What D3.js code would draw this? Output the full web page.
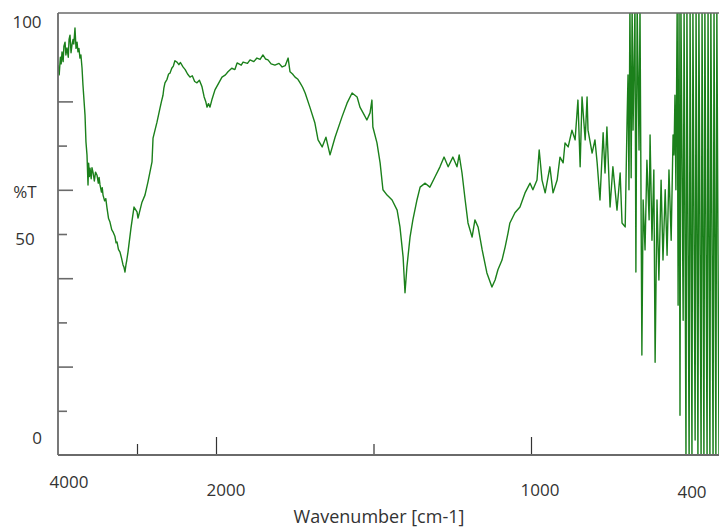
<!DOCTYPE html>
<html><head><meta charset="utf-8">
<script src="https://cdn.jsdelivr.net/npm/d3@7"></script>
<style>body{margin:0;background:#fff}svg{display:block}</style>
</head><body>
<script>
// ---- data ----
const wavenumbers = [4000,3985,3970,3960,3949,3935,3925,3911,3900,3886,3870,3860,3848,3835,3823,3810,3800,3785,3772,3759,3747,3735,3722,3710,3696,3684,3658,3646,3633,3620,3612,3603,3595,3580,3570,3557,3540,3525,3506,3490,3480,3468,3450,3440,3430,3410,3395,3380,3360,3342,3320,3304,3280,3265,3253,3235,3215,3195,3177,3165,3152,3140,3130,3114,3076,3038,3000,2987,2937,2899,2861,2810,2797,2747,2709,2690,2671,2660,2646,2620,2600,2582,2560,2540,2520,2494,2470,2450,2418,2390,2360,2329,2300,2270,2241,2210,2177,2150,2130,2114,2095,2076,2050,2013,
1981,1970,1962,1950,1940,1933,1920,1914,1900,1892,1880,1870,1860,1851,1843,1835,1825,1813,1800,1790,1780,1771,1765,1757,1749,1740,1733,1725,1717,1702,1686,1676,1663,1651,1638,1622,1600,1584,1568,1552,1543,1533,1521,1511,1505,1502,1489,1479,1470,1457,1441,1425,1416,1406,1400,1394,1384,1375,1362,1352,1336,1321,1305,1289,1276,1263,1248,1235,1228,1219,1209,1200,1187,1178,1168,1155,1140,1124,1114,1105,1092,1082,1073,1067,1051,1035,1019,1003,994,981,974,965,955,940,930,917,908,898,892,882,870,860,851,844,838,828,822,819,806,797,790,781,771,765,759,749,740,727,717,711,701,695,692,689,686,682,679,676,670,667,663,657,654,648,644,638,632,625,622,616,610,606,600,594,587,581,574,568,562,555,549,546,543,540,536,533,530,527,524,517,514,508,505,498,495,489,486,479,476,470,467,460,457,451,448,441,438,432,429,422,419,413,410,403];
const transmittance = [88.2,86.0,90.0,88.5,91.2,89.0,92.5,93.4,90.5,92.1,90.0,94.0,95.0,91.0,92.8,94.0,93.0,96.6,92.0,93.4,91.2,92.0,89.8,90.5,87.6,83.7,76.9,70.8,67.9,61.1,66.0,63.0,64.9,62.5,65.0,64.0,62.0,64.0,63.3,61.5,62.8,61.1,59.5,60.5,58.8,57.5,58.0,55.9,53.5,52.7,51.0,50.5,49.5,48.0,48.2,46.5,45.9,44.5,43.0,42.5,41.4,43.0,44.0,45.9,51.4,56.1,55.0,53.6,57.2,58.8,61.8,66.3,71.7,75.3,78.5,80.0,81.4,83.0,84.2,85.0,86.2,86.4,87.5,88.0,89.2,88.9,88.3,88.8,87.8,87.2,86.2,85.5,85.8,84.5,84.2,84.8,83.3,81.0,80.0,78.7,79.5,78.7,80.5,82.6,
85.5,86.0,86.7,87.5,87.2,88.7,88.2,88.9,88.6,89.4,89.0,89.8,89.5,90.5,89.6,89.4,88.5,88.2,88.6,87.8,88.1,89.8,86.7,86.2,85.5,85.0,84.2,83.2,81.9,78.7,75.1,71.3,69.7,71.9,67.9,71.9,76.5,79.6,81.9,81.0,78.7,77.4,75.8,77.4,80.3,74.2,70.6,66.1,60.0,58.8,57.7,55.4,51.6,44.8,36.7,42.5,49.3,53.2,57.7,60.6,61.5,60.6,62.9,65.2,67.4,65.2,67.4,65.2,67.9,63.8,57.7,52.5,49.3,53.2,51.6,46.4,41.2,38.0,39.6,41.9,44.1,47.1,50.2,52.5,54.8,56.1,59.3,61.5,60.0,62.2,69.0,62.2,59.3,65.2,59.3,62.2,67.4,66.1,70.6,69.7,73.5,71.3,80.3,65.2,81.0,71.3,81.0,73.5,68.3,71.3,66.1,57.7,72.9,63.8,74.2,56.1,65.2,55.4,63.8,52.5,51.6,75.8,86.0,60.0,102,62.7,102,73.5,102,41.4,102,69.0,102,22.6,57.7,46.4,66.7,53.2,72.4,48.6,64.5,21.0,57.7,39.6,62.2,44.1,60.0,45.2,64.5,48.6,72.4,67.9,81.4,60.0,102,33.9,102,9.0,102,30.5,102,-2,102,-2,102,-2,102,3.4,102,-2,102,-2,102,-2,102,-2,102,-2,102,-2,102,-2,102,-2];
const xTickLabels = [4000, 2000, 1000, 400];
const xMajorTicks = [2000, 1000];
const xMinorTicks = [3000, 1500];
const yLongTicks = [20, 40, 60, 80];
const yShortTicks = [10, 30, 50, 70];
const yTickLabels = [100, 50, 0];

const W = 719, H = 527;
const L = 58, T = 13, B = 455, R = 720;
const svg = d3.select("body").append("svg").attr("width", W).attr("height", H);

const x = d3.scaleLinear().domain([4000, 2000, 400]).range([L, 216, R]);
const y = d3.scaleLinear().domain([0, 100]).range([B, T]);

svg.append("clipPath").attr("id","clip").append("rect")
  .attr("x", L).attr("y", T).attr("width", 719 - L).attr("height", B - T);

const data = wavenumbers.map((w, i) => ({w, t: transmittance[i]}));
svg.append("path").datum(data)
  .attr("clip-path","url(#clip)")
  .attr("fill","none").attr("stroke","#1b801b").attr("stroke-width",1.4)
  .attr("stroke-linejoin","round")
  .attr("d", d3.line().x(d => x(d.w)).y(d => y(d.t)));

// frame
const axisCol = "#6a6a6a";
svg.append("line").attr("x1",L).attr("x2",719).attr("y1",T).attr("y2",T).attr("stroke",axisCol).attr("stroke-width",1.5);

function styleAxis(g){ g.select(".domain").remove(); g.selectAll("line").attr("stroke",axisCol).attr("stroke-width",1.6); g.selectAll("text").remove(); }
svg.append("g").attr("transform",`translate(${L},0)`).call(d3.axisRight(y).tickValues(yLongTicks).tickSize(15)).call(styleAxis);
svg.append("g").attr("transform",`translate(${L},0)`).call(d3.axisRight(y).tickValues(yShortTicks).tickSize(9)).call(styleAxis);
svg.append("g").attr("transform",`translate(0,${B})`).call(d3.axisTop(x).tickValues(xMajorTicks).tickSize(18)).call(g=>{styleAxis(g); g.selectAll("line").attr("stroke","#333").attr("stroke-width",1.2);});
svg.append("g").attr("transform",`translate(0,${B})`).call(d3.axisTop(x).tickValues(xMinorTicks).tickSize(11)).call(g=>{styleAxis(g); g.selectAll("line").attr("stroke","#333").attr("stroke-width",1.2);});

svg.append("line").attr("x1",L).attr("x2",L).attr("y1",T).attr("y2",B).attr("stroke",axisCol).attr("stroke-width",1.8);
svg.append("line").attr("x1",L).attr("x2",719).attr("y1",B).attr("y2",B).attr("stroke",axisCol).attr("stroke-width",1.8);

// labels
const font = "'Open Sans', sans-serif";
const txtCol = "#333";
const yLabelPos = {100: {cx: 27, dy: 8}, 50: {cx: 25, dy: 4}, 0: {cx: 37, dy: -18}};
yTickLabels.forEach(v => {
  svg.append("text").attr("x", yLabelPos[v].cx).attr("y", y(v) + yLabelPos[v].dy)
    .attr("text-anchor","middle").attr("dominant-baseline","central")
    .attr("font-family",font).attr("font-size",17).attr("fill",txtCol).text(v);
});
svg.append("text").attr("x",25).attr("y",y(60)+2).attr("text-anchor","middle").attr("dominant-baseline","central")
  .attr("font-family",font).attr("font-size",17).attr("fill",txtCol).text("%T");

const xLabelPos = {4000: {dx: 11, cy: 481}, 2000: {dx: 10, cy: 489}, 1000: {dx: 9, cy: 489}, 400: {dx: -28, cy: 491}};
xTickLabels.forEach(v => {
  svg.append("text").attr("x", x(v) + xLabelPos[v].dx).attr("y", xLabelPos[v].cy)
    .attr("text-anchor","middle").attr("dominant-baseline","central")
    .attr("font-family",font).attr("font-size",17).attr("fill",txtCol).text(v);
});
svg.append("text").attr("x",379).attr("y",516).attr("text-anchor","middle").attr("dominant-baseline","central")
  .attr("font-family",font).attr("font-size",18).attr("fill",txtCol).text("Wavenumber [cm-1]");
</script>
</body></html>
